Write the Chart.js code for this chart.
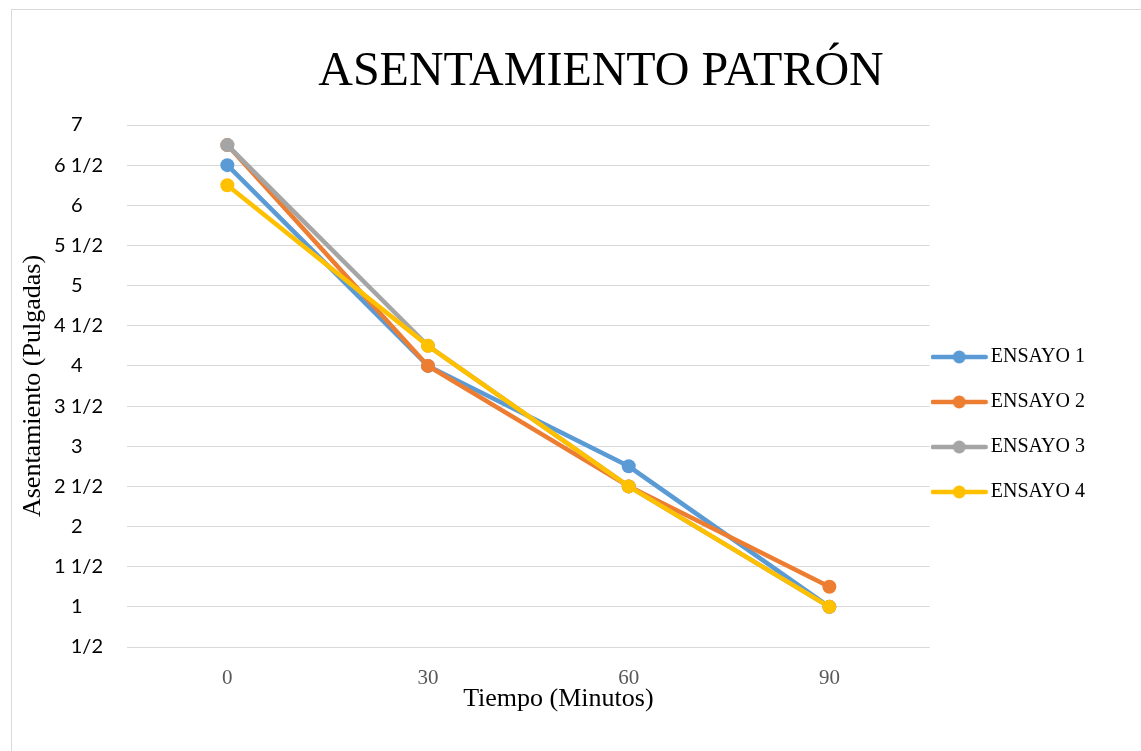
<!DOCTYPE html>
<html>
<head>
<meta charset="utf-8">
<script src="https://cdn.jsdelivr.net/npm/chart.js@4.4.0/dist/chart.umd.min.js"></script>
<style>
  html, body { margin: 0; padding: 0; background: #fff; overflow: hidden; }
  #box { position: absolute; left: 11px; top: 9px; width: 1178px; height: 741px; border: 1px solid #d9d9d9; }
</style>
</head>
<body>
<div id="box"><canvas id="asentamiento"></canvas></div>
<script>
const tiempos = ['0', '30', '60', '90'];
const ensayo1 = [6.5, 4, 2.75, 1];
const ensayo2 = [6.75, 4, 2.5, 1.25];
const ensayo3 = [6.75, 4.25, 2.5, 1];
const ensayo4 = [6.25, 4.25, 2.5, 1];
const nombres = ['ENSAYO 1', 'ENSAYO 2', 'ENSAYO 3', 'ENSAYO 4'];
const colores = ['#5B9BD5', '#ED7D31', '#A5A5A5', '#FFC000'];
const series = [ensayo1, ensayo2, ensayo3, ensayo4];

// legend marker like excel: short line with a dot in the middle
function marcador(color) {
  const c = document.createElement('canvas');
  c.width = 74;
  c.height = 16;
  const ctx = c.getContext('2d');
  ctx.strokeStyle = color;
  ctx.lineWidth = 4.5;
  ctx.lineCap = 'round';
  ctx.beginPath();
  ctx.moveTo(2, 8);
  ctx.lineTo(55, 8);
  ctx.stroke();
  ctx.fillStyle = color;
  ctx.beginPath();
  ctx.arc(28.5, 8, 6.5, 0, Math.PI * 2);
  ctx.fill();
  return c;
}
const marcas = colores.map(marcador);

// 6.5 -> "6 1/2", 7 -> "7" padded like excel's "# ?/?"
function fraccion(v) {
  const entero = Math.floor(v);
  if (v - entero < 0.5) return entero + '    ';
  return entero === 0 ? '1/2' : entero + ' 1/2';
}

// chart title and x axis title, placed like the excel original
const titulos = {
  id: 'titulos',
  afterDraw(chart) {
    const { ctx, chartArea } = chart;
    ctx.save();
    ctx.fillStyle = '#000';
    ctx.textAlign = 'center';
    ctx.textBaseline = 'middle';
    ctx.font = '48px "Liberation Serif"';
    ctx.fillText('ASENTAMIENTO PATRÓN', chart.width / 2, 62);
    ctx.font = '26px "Liberation Serif"';
    ctx.fillText('Tiempo (Minutos)', (chartArea.left + chartArea.right) / 2 + 30, chartArea.bottom + 52);
    ctx.restore();
  }
};

new Chart('asentamiento', {
  type: 'line',
  data: {
    labels: tiempos,
    datasets: series.map((datos, i) => ({
      label: nombres[i],
      data: datos,
      borderColor: colores[i],
      backgroundColor: colores[i],
      borderWidth: 4.5,
      pointRadius: 7,
      pointHoverRadius: 7,
      pointBorderWidth: 0,
      pointBackgroundColor: colores[i],
      order: series.length - i,
      fill: false
    }))
  },
  plugins: [titulos],
  options: {
    responsive: true,
    maintainAspectRatio: false,
    animation: false,
    layout: { padding: { left: 0, right: 95, top: 115, bottom: 0 } },
    plugins: {
      title: { display: false },
      legend: {
        position: 'right',
        fullSize: false,
        title: { display: true, text: '', font: { size: 10 }, padding: { top: 0, bottom: 65 } },
        labels: {
          usePointStyle: true,
          pointStyleWidth: 26,
          padding: 25,
          textAlign: 'left',
          color: '#000',
          font: { family: 'Liberation Serif', size: 20 },
          sort: (a, b) => a.datasetIndex - b.datasetIndex,
          generateLabels(chart) {
            const items = Chart.defaults.plugins.legend.labels.generateLabels(chart);
            items.forEach(it => { it.pointStyle = marcas[it.datasetIndex]; });
            return items;
          }
        }
      },
      tooltip: { enabled: false }
    },
    scales: {
      x: {
        offset: true,
        grid: { display: false, drawTicks: false },
        border: { display: false },
        ticks: { color: '#595959', font: { family: 'Liberation Serif', size: 21 }, padding: 19 },
        afterFit(s) { s.height = 104; }
      },
      y: {
        min: 0.5,
        max: 7,
        grid: { color: '#d9d9d9', drawTicks: false },
        border: { display: false },
        ticks: { stepSize: 0.5, callback: fraccion, color: '#000', font: { family: 'Lato', size: 20 }, padding: 24 },
        title: {
          display: true,
          text: 'Asentamiento (Pulgadas)',
          color: '#000',
          font: { family: 'Liberation Serif', size: 26 },
          padding: { top: 6, bottom: 0 }
        },
        afterFit(s) { s.width = 115; }
      }
    }
  }
});
</script>
</body>
</html>
